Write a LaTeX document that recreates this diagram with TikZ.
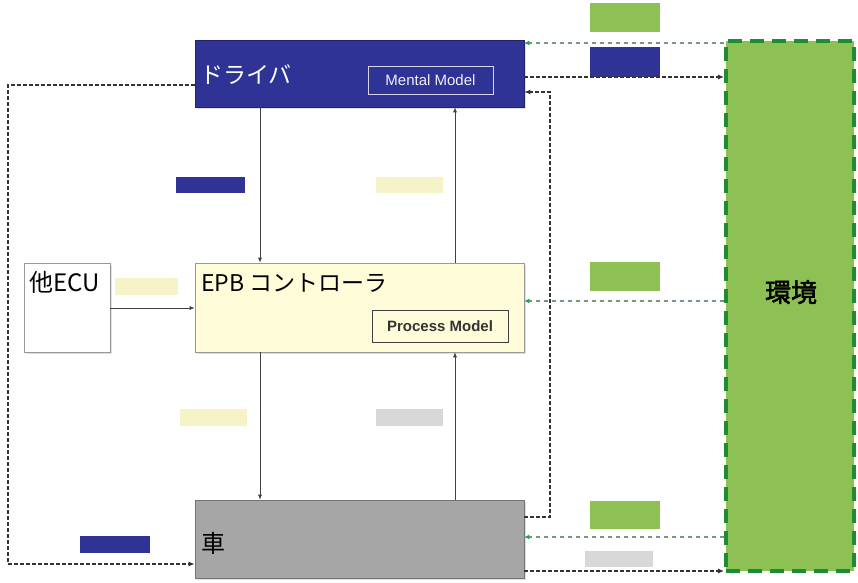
\documentclass[tikz,border=0pt]{standalone}
\usepackage{fontspec}
\setmainfont{Liberation Sans}
\newfontfamily\jp{Noto Sans CJK JP}
\newfontfamily\jpb[FakeBold=2]{Noto Sans CJK JP}
\usetikzlibrary{arrows.meta,shadows}
\definecolor{drvblue}{RGB}{48,51,150}
\definecolor{epbyel}{RGB}{255,252,218}
\definecolor{phyel}{RGB}{246,243,200}
\definecolor{cargray}{RGB}{166,166,166}
\definecolor{phgray}{RGB}{216,216,216}
\definecolor{envgreen}{RGB}{141,193,83}
\definecolor{envborder}{RGB}{30,140,50}
\definecolor{gdash}{RGB}{120,150,125}
\definecolor{gtip}{RGB}{40,160,80}
\tikzset{
  x=1pt,y=-1pt,
  box/.style={draw=#1!70!black,line width=0.6pt,minimum width=329pt,inner sep=0pt,
    drop shadow={opacity=0.25,shadow xshift=2pt,shadow yshift=-2pt}},
  ph/.style={fill=#1,draw=none,inner sep=0pt},
  arr/.style={draw=black!75,line width=0.7pt,-{Latex[length=5pt,width=4pt]}},
  darr/.style={draw=black!80,line width=1.6pt,dash pattern=on 3.5pt off 2.5pt,
    -{Latex[length=6pt,width=5pt]}},
  garr/.style={draw=gdash,line width=1.1pt,dash pattern=on 4pt off 4pt,
    -{Latex[length=5pt,width=5pt,color=gtip]}},
  lbl/.style={anchor=west,inner sep=0pt,font=\jp\fontsize{23}{26}\selectfont},
}
\begin{document}
\begin{tikzpicture}
\useasboundingbox (0,0) rectangle (858,582);
\fill[white] (0,0) rectangle (858,582);
% boxes
\node[box=drvblue,fill=drvblue,minimum height=67pt] (drv) at (359.5,73.5) {};
\node[box=black,fill=epbyel,draw=black!40,minimum height=89pt] (epb) at (359.5,307.5) {};
\node[box=cargray,fill=cargray,minimum height=78pt] (car) at (359.5,539) {};
\node[draw=black!40,fill=white,line width=0.6pt,minimum width=86pt,minimum height=89pt,inner sep=0pt,
  drop shadow={opacity=0.25,shadow xshift=2pt,shadow yshift=-2pt}] (ecu) at (67,307.5) {};
\node[fill=envgreen,draw=envborder,line width=3.8pt,dash pattern=on 14pt off 8pt,
  minimum width=128pt,minimum height=530pt,inner sep=0pt] (env) at (790,306) {};
% inner model boxes
\node[draw=white!80!drvblue,line width=0.8pt,minimum width=125pt,minimum height=28pt,inner sep=0pt,
  text=white!92!drvblue,font=\fontsize{15}{17}\selectfont] (mm) at (430.5,80) {Mental Model};
\node[draw=black!75,line width=0.9pt,minimum width=136pt,minimum height=32pt,inner sep=0pt,
  font=\bfseries\fontsize{15}{17}\selectfont,text=black!80] (pm) at (440,326) {Process Model};
% box texts
\node[lbl,text=white] (tdrv) at (200,75) {ドライバ};
\node[lbl] (tepb) at (201,283) {EPB コントローラ};
\node[lbl,font=\jp\fontsize{24}{26}\selectfont] (tecu) at (29,282) {他ECU};
\node[lbl,font=\jp\fontsize{24}{26}\selectfont] (tcar) at (201,543) {車};
\node[inner sep=0pt,font=\jpb\fontsize{26}{28}\selectfont] (tenv) at (791,292) {環境};
% placeholders (label backgrounds)
\node[ph=envgreen,minimum width=70pt,minimum height=29pt] (p1) at (625,17.5) {};
\node[ph=drvblue,minimum width=70pt,minimum height=30pt] (p2) at (625,62) {};
\node[ph=drvblue,minimum width=69pt,minimum height=16pt] (p3) at (210.5,185) {};
\node[ph=phyel,minimum width=67pt,minimum height=16pt] (p4) at (409.5,185) {};
\node[ph=phyel,minimum width=63pt,minimum height=17pt] (p5) at (146.5,286.5) {};
\node[ph=envgreen,minimum width=70pt,minimum height=29pt] (p6) at (625,276.5) {};
\node[ph=phyel,minimum width=67pt,minimum height=17pt] (p7) at (213.5,417) {};
\node[ph=phgray,minimum width=67pt,minimum height=17pt] (p8) at (409.5,417) {};
\node[ph=envgreen,minimum width=70pt,minimum height=28pt] (p9) at (625,515) {};
\node[ph=phgray,minimum width=68pt,minimum height=16pt] (p10) at (619,559) {};
\node[ph=drvblue,minimum width=70pt,minimum height=17pt] (p11) at (115,544.5) {};
% solid connectors
\draw[arr] (drv.south -| 260,0) -- (epb.north -| 260,0);
\draw[arr] (epb.north -| 455,0) -- (drv.south -| 455,0);
\draw[arr] (epb.south -| 260,0) -- (car.north -| 260,0);
\draw[arr] (car.north -| 455,0) -- (epb.south -| 455,0);
\draw[arr] (ecu.east |- 0,308) -- (epb.west |- 0,308);
% dashed black connectors
\draw[darr] (drv.west |- 0,85) -- (8,85) -- (8,564) -- (car.west |- 0,564);
\draw[darr] (drv.east |- 0,77) -- (env.west |- 0,77);
\draw[darr] (car.east |- 0,517) -- (550,517) -- (550,92) -- (drv.east |- 0,92);
\draw[darr] (car.east |- 0,571) -- (env.west |- 0,571);
% dashed green connectors
\draw[garr] (env.west |- 0,43) -- (drv.east |- 0,43);
\draw[garr] (env.west |- 0,301) -- (epb.east |- 0,301);
\draw[garr] (env.west |- 0,537) -- (car.east |- 0,537);
\end{tikzpicture}
\end{document}
